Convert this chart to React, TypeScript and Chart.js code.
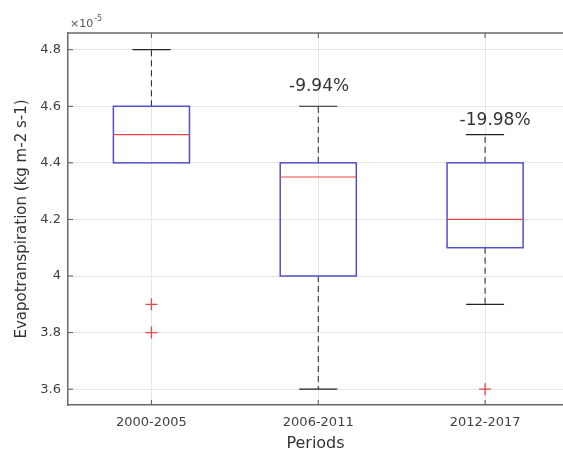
import { useEffect, useRef } from 'react';
import { Chart, registerables, ScatterController } from 'chart.js';

Chart.register(...registerables);

class NoOverflowScatter extends (ScatterController as any) {
  static id = 'noOverflowScatter';
  getMaxOverflow() {
    return 0;
  }
}
Chart.register(NoOverflowScatter as any);

const categories = ['2000-2005', '2006-2011', '2012-2017'];
const upperWhisker = [4.8, 4.6, 4.5];
const q3 = [4.6, 4.4, 4.4];
const median = [4.5, 4.35, 4.2];
const q1 = [4.4, 4.0, 4.1];
const lowerWhisker = [4.4, 3.6, 3.9];
const outliers = [[3.9, 3.8], [], [3.6]];
const changeLabels = ['', '-9.94%', '-19.98%'];
const changeLabelX = [1, 2.005, 3.06];
const changeLabelY = [0, 4.67, 4.55];
const yTicks = [3.6, 3.8, 4, 4.2, 4.4, 4.6, 4.8];
const xTicks = [1, 2, 3];

const FONT = 'DejaVu Sans';
const BOX_HALF = 0.228;
const CAP_HALF = 0.114;

const boxPlugin = {
  id: 'boxes',
  beforeDatasetsDraw(chart: any) {
    const { ctx, chartArea, scales } = chart;
    const x = scales.x;
    const y = scales.y;
    ctx.save();
    // top border
    ctx.strokeStyle = '#6a6a6a';
    ctx.lineWidth = 1.5;
    ctx.setLineDash([]);
    ctx.beginPath();
    ctx.moveTo(chartArea.left, chartArea.top);
    ctx.lineTo(chartArea.right, chartArea.top);
    ctx.stroke();
    // inner tick marks
    ctx.lineWidth = 1;
    ctx.strokeStyle = '#555';
    xTicks.forEach((v) => {
      const px = x.getPixelForValue(v);
      ctx.beginPath();
      ctx.moveTo(px, chartArea.bottom);
      ctx.lineTo(px, chartArea.bottom - 5);
      ctx.moveTo(px, chartArea.top);
      ctx.lineTo(px, chartArea.top + 5);
      ctx.stroke();
    });
    yTicks.forEach((v) => {
      const py = y.getPixelForValue(v);
      ctx.beginPath();
      ctx.moveTo(chartArea.left, py);
      ctx.lineTo(chartArea.left + 5, py);
      ctx.stroke();
    });

    categories.forEach((_, i) => {
      const c = i + 1;
      const cx = x.getPixelForValue(c);
      const bl = x.getPixelForValue(c - BOX_HALF);
      const br = x.getPixelForValue(c + BOX_HALF);
      const cl = x.getPixelForValue(c - CAP_HALF);
      const cr = x.getPixelForValue(c + CAP_HALF);
      const yUW = y.getPixelForValue(upperWhisker[i]);
      const yQ3 = y.getPixelForValue(q3[i]);
      const yMed = y.getPixelForValue(median[i]);
      const yQ1 = y.getPixelForValue(q1[i]);
      const yLW = y.getPixelForValue(lowerWhisker[i]);

      // whiskers (dashed)
      ctx.strokeStyle = '#222';
      ctx.lineWidth = 1;
      ctx.setLineDash([6, 4]);
      ctx.beginPath();
      if (upperWhisker[i] > q3[i]) {
        ctx.moveTo(cx, yQ3);
        ctx.lineTo(cx, yUW);
      }
      if (lowerWhisker[i] < q1[i]) {
        ctx.moveTo(cx, yQ1);
        ctx.lineTo(cx, yLW);
      }
      ctx.stroke();
      // caps
      ctx.setLineDash([]);
      ctx.lineWidth = 1.2;
      ctx.beginPath();
      if (upperWhisker[i] > q3[i]) {
        ctx.moveTo(cl, yUW);
        ctx.lineTo(cr, yUW);
      }
      if (lowerWhisker[i] < q1[i]) {
        ctx.moveTo(cl, yLW);
        ctx.lineTo(cr, yLW);
      }
      ctx.stroke();
      // box
      ctx.strokeStyle = 'rgb(80,80,205)';
      ctx.lineWidth = 1.5;
      ctx.strokeRect(bl, yQ3, br - bl, yQ1 - yQ3);
      // median
      ctx.strokeStyle = 'rgb(235,70,70)';
      ctx.lineWidth = 1.2;
      ctx.beginPath();
      ctx.moveTo(bl, yMed);
      ctx.lineTo(br, yMed);
      ctx.stroke();

      // change labels
      if (changeLabels[i]) {
        ctx.fillStyle = '#333';
        ctx.font = `17px "${FONT}"`;
        ctx.textAlign = 'center';
        ctx.textBaseline = 'middle';
        ctx.fillText(
          changeLabels[i],
          x.getPixelForValue(changeLabelX[i]),
          y.getPixelForValue(changeLabelY[i])
        );
      }
    });

    // exponent label
    ctx.fillStyle = '#555';
    ctx.textAlign = 'left';
    ctx.textBaseline = 'alphabetic';
    ctx.font = `11px "${FONT}"`;
    const ex = chartArea.left + 2;
    const ey = chartArea.top - 6;
    ctx.fillText('\u00d710', ex, ey);
    const w = ctx.measureText('\u00d710').width;
    ctx.font = `8px "${FONT}"`;
    ctx.fillText('-5', ex + w + 1, ey - 6);
    ctx.restore();
  },
};

export default function App() {
  const ref = useRef<HTMLCanvasElement | null>(null);

  useEffect(() => {
    document.body.style.margin = '0';
    document.body.style.overflow = 'hidden';
    const canvas = ref.current;
    if (!canvas) return;

    const outlierPoints: { x: number; y: number }[] = [];
    outliers.forEach((arr, i) => arr.forEach((v) => outlierPoints.push({ x: i + 1, y: v })));

    const chart = new Chart(canvas, {
      type: 'noOverflowScatter' as any,
      data: {
        datasets: [
          {
            label: 'Outliers',
            data: outlierPoints,
            showLine: false,
            pointStyle: 'cross',
            pointRadius: 6,
            pointBorderColor: 'rgb(235,70,70)',
            pointBorderWidth: 1.3,
            borderColor: 'rgb(235,70,70)',
            backgroundColor: 'rgb(235,70,70)',
          } as any,
        ],
      },
      options: {
        animation: false,
        responsive: false,
        maintainAspectRatio: false,
        layout: { padding: { top: 33, left: 0, right: 0, bottom: 0 } },
        plugins: {
          legend: { display: false },
          tooltip: { enabled: false },
        },
        scales: {
          x: {
            type: 'linear',
            position: 'bottom',
            min: 0.5,
            max: 3.467,
            afterFit: (s: any) => {
              s.height = 45;
              s.paddingRight = 0;
              s.paddingLeft = 0;
            },
            afterBuildTicks: (s: any) => {
              s.ticks = xTicks.map((v) => ({ value: v }));
            },
            ticks: {
              callback: (v: any) => categories[Number(v) - 1] ?? '',
              font: { family: FONT, size: 13 },
              color: '#404040',
              padding: 10,
              maxRotation: 0,
              autoSkip: false,
            },
            grid: { color: '#e6e6e6', lineWidth: 1, drawTicks: false },
            border: { color: '#6a6a6a', width: 1.5 },
            title: {
              display: true,
              text: 'Periods',
              font: { family: FONT, size: 16 },
              color: '#333',
              padding: { top: 0, bottom: -3 },
            },
          },
          y: {
            type: 'linear',
            position: 'left',
            min: 3.544,
            max: 4.859,
            afterFit: (s: any) => {
              s.width = 68;
            },
            afterBuildTicks: (s: any) => {
              s.ticks = yTicks.map((v) => ({ value: v }));
            },
            ticks: {
              callback: (v: any) => String(v),
              font: { family: FONT, size: 13 },
              color: '#404040',
              padding: 7,
            },
            grid: { color: '#e6e6e6', lineWidth: 1, drawTicks: false },
            border: { color: '#6a6a6a', width: 1.5 },
            title: {
              display: true,
              text: 'Evapotranspiration (kg m-2 s-1)',
              font: { family: FONT, size: 15 },
              color: '#333',
              padding: { top: 13, bottom: 0 },
            },
          },
        },
      },
      plugins: [boxPlugin],
    });

    return () => chart.destroy();
  }, []);

  return (
    <div style={{ width: 563, height: 450, position: 'relative' }}>
      <canvas ref={ref} width={563} height={450} style={{ display: 'block' }} />
    </div>
  );
}
